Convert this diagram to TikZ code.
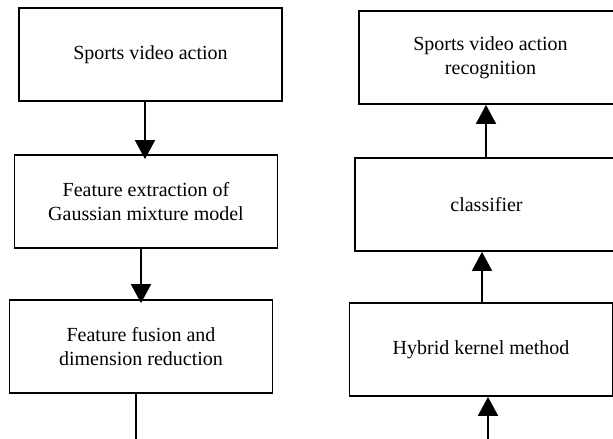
\documentclass[tikz,border=0pt]{standalone}
\usepackage{fontspec}
\setmainfont{Liberation Serif}
\usetikzlibrary{arrows.meta}
\tikzset{
  stepbox/.style={draw, line width=1.8pt, minimum width=263pt, minimum height=93pt, inner sep=0pt, align=center, font=\fontsize{20pt}{24pt}\selectfont},
  arr/.style={line width=1.8pt, -{Triangle[length=19pt,width=20pt]}},
  ln/.style={line width=1.8pt}
}
\begin{document}
\begin{tikzpicture}[x=1pt,y=-1pt]
\useasboundingbox (0,0) rectangle (613,439);
\clip (0,0) rectangle (613,439);
\fill[white] (0,0) rectangle (613,439);
% left column
\node[stepbox] (b1) at (150.5,54.5) {Sports video action};
\node[stepbox] (b2) at (146,201.5) {Feature extraction of\\Gaussian mixture model};
\node[stepbox] (b3) at (141,346.5) {Feature fusion and\\dimension reduction};
\coordinate (e1) at (136,445);
% right column
\node[stepbox] (r1) at (490.5,57.5) {Sports video action\\recognition};
\node[stepbox] (r2) at (486.5,204.5) {classifier};
\node[stepbox] (r3) at (481,349.5) {Hybrid kernel method};
\coordinate (e2) at (488,445);
% connectors
\draw[arr] ([xshift=-5.5pt]b1.south) -- ([xshift=-1pt,yshift=-5pt]b2.north);
\draw[arr] ([xshift=-5pt]b2.south) -- ([yshift=-4pt]b3.north);
\draw[ln] ([xshift=-5pt]b3.south) -- (e1);
\draw[arr] ([xshift=-0.5pt]r2.north) -- ([xshift=-4.5pt]r1.south);
\draw[arr] ([xshift=1pt]r3.north) -- ([xshift=-4.5pt]r2.south);
\draw[arr] (e2) -- ([xshift=7pt]r3.south);
\end{tikzpicture}
\end{document}
